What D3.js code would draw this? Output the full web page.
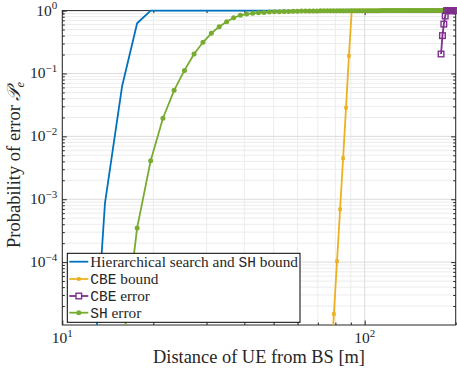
<!DOCTYPE html>
<html>
<head>
<meta charset="utf-8">
<script src="https://cdn.jsdelivr.net/npm/d3@7"></script>
<style>
  body { margin: 0; background: #fff; }
  svg { display: block; }
</style>
</head>
<body>
<div id="chart"></div>
<script>
// distance grid of the simulation [m]
const distance = [
  10.00, 11.92, 13.84, 15.76, 17.68, 19.60, 21.52, 23.43, 25.35, 27.27,
  29.19, 31.11, 33.03, 34.95, 36.87, 38.79, 40.71, 42.63, 44.55, 46.46,
  48.38, 50.30, 52.22, 54.14, 56.06, 57.98, 59.90, 61.82, 63.74, 65.66,
  67.58, 69.49, 71.41, 73.33, 75.25, 77.17, 79.09, 81.01, 82.93, 84.85,
  86.77, 88.69, 90.61, 92.53, 94.44, 96.36, 98.28, 100.20, 102.12, 104.04,
  105.96, 107.88, 109.80, 111.72, 113.64, 115.56, 117.47, 119.39, 121.31, 123.23,
  125.15, 127.07, 128.99, 130.91, 132.83, 134.75, 136.67, 138.59, 140.51, 142.42,
  144.34, 146.26, 148.18, 150.10, 152.02, 153.94, 155.86, 157.78, 159.70, 161.62,
  163.54, 165.45, 167.37, 169.29, 171.21, 173.13, 175.05, 176.97, 178.89, 180.81,
  182.73, 184.65, 186.57, 188.48, 190.40, 192.32, 194.24, 196.16, 198.08, 200.00
];

// Hierarchical search and SH bound
const hsBound = [
  1e-12, 1.5e-8, 8.7e-4, 0.062, 0.63, 1, 1, 1, 1, 1,
  1, 1, 1, 1, 1, 1, 1, 1, 1, 1,
  1, 1, 1, 1, 1, 1, 1, 1, 1, 1,
  1, 1, 1, 1, 1, 1, 1, 1, 1, 1,
  1, 1, 1, 1, 1, 1, 1, 1, 1, 1,
  1, 1, 1, 1, 1, 1, 1, 1, 1, 1,
  1, 1, 1, 1, 1, 1, 1, 1, 1, 1,
  1, 1, 1, 1, 1, 1, 1, 1, 1, 1,
  1, 1, 1, 1, 1, 1, 1, 1, 1, 1,
  1, 1, 1, 1, 1, 1, 1, 1, 1, 1
];

// CBE bound
const cbeBound = [
  null, null, null, null, null, null, null, null, null, null,
  null, null, null, null, null, null, null, null, null, null,
  null, null, null, null, null, null, null, null, null, null,
  null, null, null, null, 2e-8, 1.8e-6, 1.5e-5, 1.03e-4, 6.9e-4, 4.5e-3,
  0.0286, 0.19, 1, 1, 1, 1, 1, 1, 1, 1,
  1, 1, 1, 1, 1, 1, 1, 1, 1, 1,
  1, 1, 1, 1, 1, 1, 1, 1, 1, 1,
  1, 1, 1, 1, 1, 1, 1, 1, 1, 1,
  1, 1, 1, 1, 1, 1, 1, 1, 1, 1,
  1, 1, 1, 1, 1, 1, 1, 1, 1, 1
];

// CBE error (zero elsewhere, not drawn on log axis)
const cbeError = [
  null, null, null, null, null, null, null, null, null, null,
  null, null, null, null, null, null, null, null, null, null,
  null, null, null, null, null, null, null, null, null, null,
  null, null, null, null, null, null, null, null, null, null,
  null, null, null, null, null, null, null, null, null, null,
  null, null, null, null, null, null, null, null, null, null,
  null, null, null, null, null, null, null, null, null, null,
  null, null, null, null, null, null, null, null, null, null,
  null, null, null, null, null, null, null, null, 0.204, 0.40,
  0.61, 0.82, 1, 1, 1, 1, 1, 1, 1, 1
];

// SH error
const shError = [
  null, null, 1e-9, 3.5e-6, 3.5e-4, 4.1e-3, 0.0194, 0.054, 0.112, 0.204,
  0.313, 0.436, 0.555, 0.666, 0.77, 0.84, 0.88, 0.905, 0.922, 0.936,
  0.947, 0.955, 0.962, 0.967, 0.972, 0.976, 0.979, 0.982, 0.984, 0.986,
  0.988, 0.989, 0.990, 0.991, 0.992, 0.993, 0.994, 0.995, 0.995, 0.996,
  0.996, 0.997, 0.997, 0.997, 0.998, 0.998, 0.998, 0.998, 0.999, 0.999,
  0.999, 0.999, 0.999, 0.999, 1, 1, 1, 1, 1, 1,
  1, 1, 1, 1, 1, 1, 1, 1, 1, 1,
  1, 1, 1, 1, 1, 1, 1, 1, 1, 1,
  1, 1, 1, 1, 1, 1, 1, 1, 1, 1,
  1, 1, 1, 1, 1, 1, 1, 1, 1, 1
];

const xTickValues = [10, 100];
const xTickExp = ["1", "2"];
const xMinorValues = [20, 30, 40, 50, 60, 70, 80, 90, 200];
const yTickValues = [1, 1e-1, 1e-2, 1e-3, 1e-4];
const yTickExp = ["0", "\u22121", "\u22122", "\u22123", "\u22124"];
const legendLabels = [
  ["Hierarchical search and ", "SH", " bound"],
  ["", "CBE", " bound"],
  ["", "CBE", " error"],
  ["", "SH", " error"]
];

const SERIF = "Liberation Serif";
const MONO = "Liberation Mono";

class ErrorChart {
  constructor(_config) {
    this.config = {
      parentElement: _config.parentElement,
      containerWidth: 457,
      containerHeight: 373,
      margin: { top: 10.6, right: 1.3, bottom: 48, left: 62.3 },
    };
    this.initVis();
  }

  initVis() {
    let vis = this;
    const m = vis.config.margin;
    vis.width = vis.config.containerWidth - m.left - m.right;
    vis.height = vis.config.containerHeight - m.top - m.bottom;

    vis.svg = d3.select(vis.config.parentElement).append("svg")
      .attr("width", vis.config.containerWidth)
      .attr("height", vis.config.containerHeight);

    vis.chart = vis.svg.append("g")
      .attr("transform", `translate(${m.left},${m.top})`);

    vis.x = d3.scaleLog().domain([10, 200]).range([0, vis.width]);
    vis.y = d3.scaleLog().domain([1e-5, 1]).range([vis.height, 0]);

    // minor y values 2..9 x 10^k
    vis.yMinor = [];
    for (let k = -5; k < 0; k++) {
      for (let j = 2; j <= 9; j++) vis.yMinor.push(j * Math.pow(10, k));
    }

    vis.drawGrid();
    vis.drawAxes();
    vis.renderVis();
    vis.drawLegend();
  }

  drawGrid() {
    let vis = this;
    const g = vis.chart.append("g");
    g.selectAll(".xminor").data(xMinorValues).join("line")
      .attr("x1", d => vis.x(d)).attr("x2", d => vis.x(d))
      .attr("y1", 0).attr("y2", vis.height)
      .attr("stroke", "#ececec").attr("stroke-width", 1);
    g.selectAll(".yminor").data(vis.yMinor).join("line")
      .attr("x1", 0).attr("x2", vis.width)
      .attr("y1", d => vis.y(d)).attr("y2", d => vis.y(d))
      .attr("stroke", "#ececec").attr("stroke-width", 1);
    g.selectAll(".xmajor").data(xTickValues).join("line")
      .attr("x1", d => vis.x(d)).attr("x2", d => vis.x(d))
      .attr("y1", 0).attr("y2", vis.height)
      .attr("stroke", "#dcdcdc").attr("stroke-width", 1);
    g.selectAll(".ymajor").data(yTickValues).join("line")
      .attr("x1", 0).attr("x2", vis.width)
      .attr("y1", d => vis.y(d)).attr("y2", d => vis.y(d))
      .attr("stroke", "#dcdcdc").attr("stroke-width", 1);
  }

  drawAxes() {
    let vis = this;
    const styleAxis = sel => {
      sel.select(".domain").remove();
      sel.selectAll("line").attr("stroke", "#262626");
    };
    // inward ticks on all four sides
    const axes = [
      [d3.axisBottom(vis.x), `translate(0,${vis.height})`, xTickValues, xMinorValues],
      [d3.axisTop(vis.x), "translate(0,0)", xTickValues, xMinorValues],
      [d3.axisLeft(vis.y), "translate(0,0)", yTickValues, vis.yMinor],
      [d3.axisRight(vis.y), `translate(${vis.width},0)`, yTickValues, vis.yMinor],
    ];
    axes.forEach(([axis, tr, major, minor]) => {
      vis.chart.append("g").attr("transform", tr)
        .call(axis.tickValues(major).tickSize(-4.5).tickFormat(""))
        .call(styleAxis);
      vis.chart.append("g").attr("transform", tr)
        .call(axis.tickValues(minor).tickSize(-2.5).tickFormat(""))
        .call(styleAxis);
    });

    vis.chart.append("rect")
      .attr("width", vis.width).attr("height", vis.height)
      .attr("fill", "none").attr("stroke", "#262626").attr("stroke-width", 1);

    // tick labels 10^k
    const xl = vis.chart.selectAll(".xlab").data(xTickValues).join("text")
      .attr("x", d => vis.x(d)).attr("y", vis.height + 18.5)
      .attr("text-anchor", "middle")
      .attr("font-family", SERIF).attr("font-size", 15.5).attr("fill", "#262626");
    xl.append("tspan").text("10");
    xl.append("tspan").attr("dy", -6.5).attr("font-size", 11).text((d, i) => xTickExp[i]);

    const yl = vis.chart.selectAll(".ylab").data(yTickValues).join("text")
      .attr("x", -5).attr("y", d => vis.y(d) + 5)
      .attr("text-anchor", "end")
      .attr("font-family", SERIF).attr("font-size", 15.5).attr("fill", "#262626");
    yl.append("tspan").text("10");
    yl.append("tspan").attr("dy", -6.5).attr("font-size", 11).text((d, i) => yTickExp[i]);

    // axis titles
    vis.svg.append("text")
      .attr("x", vis.config.margin.left + vis.width / 2).attr("y", 363)
      .attr("text-anchor", "middle")
      .attr("font-family", SERIF).attr("font-size", 18.4).attr("fill", "#262626")
      .text("Distance of UE from BS [m]");

    const yt = vis.svg.append("text")
      .attr("transform", "translate(20,165) rotate(-90)")
      .attr("text-anchor", "middle")
      .attr("font-family", SERIF).attr("font-size", 18.5).attr("fill", "#262626");
    yt.append("tspan").text("Probability of error ");
    yt.append("tspan").attr("font-style", "italic").text("\ud835\udcab");
    yt.append("tspan").attr("dy", 4).attr("font-style", "italic").attr("font-size", 12.5).text("e");
  }

  renderVis() {
    let vis = this;
    vis.svg.append("defs").append("clipPath").attr("id", "plotclip")
      .append("rect").attr("x", -5).attr("y", -10)
      .attr("width", vis.width + 10).attr("height", vis.height + 10);

    const plot = vis.chart.append("g").attr("clip-path", "url(#plotclip)");
    const line = d3.line()
      .defined(d => d[1] !== null)
      .x(d => vis.x(d[0]))
      .y(d => vis.y(d[1]));
    const pairs = vals => distance.map((d, i) => [d, vals[i]]);

    vis.series = [
      { values: hsBound, color: "#0072BD", marker: "none" },
      { values: cbeBound, color: "#EDB120", marker: "smallsquare" },
      { values: shError, color: "#77AC30", marker: "dot" },
      { values: cbeError, color: "#7E2F8E", marker: "square" },
    ];

    vis.series.forEach(s => {
      const pts = pairs(s.values);
      plot.append("path")
        .datum(pts)
        .attr("d", line)
        .attr("fill", "none")
        .attr("stroke", s.color)
        .attr("stroke-width", 1.8)
        .attr("stroke-linejoin", "round");
      vis.drawMarkers(plot, pts.filter(p => p[1] !== null), s);
    });
  }

  drawMarkers(g, pts, s) {
    let vis = this;
    if (s.marker === "dot") {
      g.selectAll(null).data(pts).join("circle")
        .attr("cx", d => vis.x(d[0])).attr("cy", d => vis.y(d[1]))
        .attr("r", 2.5).attr("fill", s.color);
    } else if (s.marker === "smallsquare") {
      g.selectAll(null).data(pts).join("rect")
        .attr("x", d => vis.x(d[0]) - 1.8).attr("y", d => vis.y(d[1]) - 1.8)
        .attr("width", 3.6).attr("height", 3.6).attr("fill", s.color);
    } else if (s.marker === "square") {
      g.selectAll(null).data(pts).join("rect")
        .attr("x", d => vis.x(d[0]) - 2.8).attr("y", d => vis.y(d[1]) - 2.8)
        .attr("width", 5.6).attr("height", 5.6)
        .attr("fill", "none").attr("stroke", s.color).attr("stroke-width", 1.4);
    }
  }

  drawLegend() {
    let vis = this;
    const lg = vis.svg.append("g").attr("transform", "translate(67.3,253.3)");
    lg.append("rect").attr("width", 232.7).attr("height", 69)
      .attr("fill", "#fff").attr("stroke", "#000").attr("stroke-width", 1);

    // legend order: blue, orange, purple, green
    const order = [0, 1, 3, 2];
    const rowY = [8.4, 25.7, 42.7, 59.4];
    order.forEach((si, i) => {
      const s = vis.series[si];
      const r = lg.append("g").attr("transform", `translate(0,${rowY[i]})`);
      r.append("line").attr("x1", 2).attr("x2", 21).attr("y1", 0).attr("y2", 0)
        .attr("stroke", s.color).attr("stroke-width", 1.8);
      if (s.marker === "dot") {
        r.append("circle").attr("cx", 11.5).attr("cy", 0).attr("r", 2.5).attr("fill", s.color);
      } else if (s.marker === "smallsquare") {
        r.append("rect").attr("x", 9.7).attr("y", -1.8).attr("width", 3.6).attr("height", 3.6).attr("fill", s.color);
      } else if (s.marker === "square") {
        r.append("rect").attr("x", 8.7).attr("y", -2.8).attr("width", 5.6).attr("height", 5.6)
          .attr("fill", "#fff").attr("stroke", s.color).attr("stroke-width", 1.4);
      }
      const t = r.append("text").attr("x", 23).attr("y", 4.8)
        .attr("font-family", SERIF).attr("font-size", 15.3).attr("fill", "#262626");
      const lab = legendLabels[i];
      t.append("tspan").text(lab[0]);
      t.append("tspan").attr("font-family", MONO).attr("font-size", 14.5).text(lab[1]);
      t.append("tspan").text(lab[2]);
    });
  }
}

new ErrorChart({ parentElement: "#chart" });
</script>
</body>
</html>
